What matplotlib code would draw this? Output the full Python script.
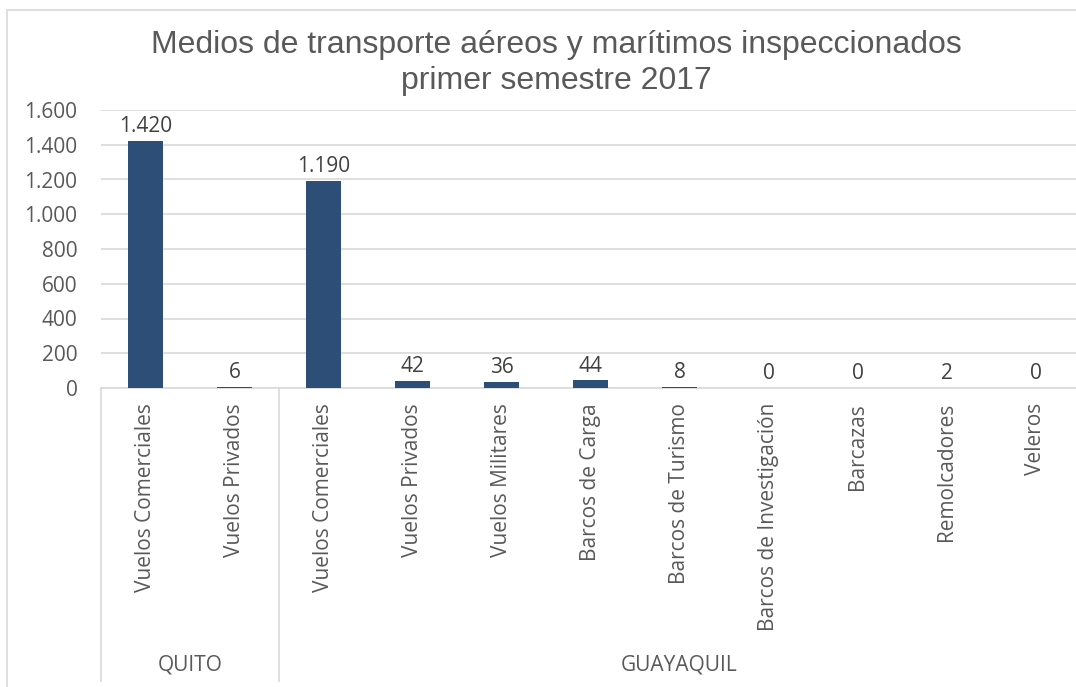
import matplotlib.pyplot as plt
import matplotlib.transforms as mtransforms
from matplotlib.patches import Rectangle
from matplotlib.ticker import FuncFormatter

# datos
categorias = ["Vuelos Comerciales", "Vuelos Privados", "Vuelos Comerciales", "Vuelos Privados",
              "Vuelos Militares", "Barcos de Carga", "Barcos de Turismo", "Barcos de Investigación",
              "Barcazas", "Remolcadores", "Veleros"]
valores = [1420, 6, 1190, 42, 36, 44, 8, 0, 0, 2, 0]
grupos = ["QUITO", "GUAYAQUIL"]
grupo_n = [2, 9]
titulo = "Medios de transporte aéreos y marítimos inspeccionados\nprimer semestre 2017"

W, H = 1076, 687
fig = plt.figure(figsize=(W/100, H/100), dpi=100)
ax = fig.add_axes([101/W, 1-388/H, (1080-101)/W, (388-110)/H])

font = ["Open Sans", "DejaVu Sans"]
gris = "#595959"
color_barra = "#2d4e76"
fs = 15

x = list(range(len(valores)))
ax.bar(x, valores, width=0.4, color=color_barra, zorder=3)
for i, v in enumerate(valores):
    ax.text(i, v + 22, "{:,}".format(v).replace(",", "."), ha="center", va="bottom",
            fontsize=fs, color="#404040", family=font)

ax.set_xlim(-0.5, len(valores)-0.5)
ax.set_ylim(0, 1600)
ax.set_yticks(range(0, 1601, 200))
ax.yaxis.set_major_formatter(FuncFormatter(lambda v, p: "{:,}".format(int(v)).replace(",", ".")))
ax.grid(axis="y", color="#d9d9d9", lw=1.2, zorder=0)
for s in ["top", "right", "left"]:
    ax.spines[s].set_visible(False)
ax.spines["bottom"].set_color("#d9d9d9")
ax.spines["bottom"].set_linewidth(1.2)
ax.tick_params(axis="y", length=0, pad=17, labelsize=fs, labelcolor=gris)
for t in ax.get_yticklabels():
    t.set_family(font)
ax.set_xticks([])

# etiquetas de categoria y grupos
tr = mtransforms.blended_transform_factory(ax.transData, fig.transFigure)
for i, c in enumerate(categorias):
    ax.text(i, 1-403/H, c, rotation=90, ha="center", va="top", transform=tr,
            fontsize=fs, color=gris, family=font)
inicio = -0.5
for g, n in zip(grupos, grupo_n):
    fin = inicio + n
    ax.text((inicio+fin)/2, 1-665/H, g, ha="center", va="center", transform=tr,
            fontsize=fs, color=gris, family=font)
    inicio = fin
bordes = [-0.5]
for n in grupo_n:
    bordes.append(bordes[-1] + n)
for b in bordes:
    ax.plot([b, b], [1-388/H, 1-681/H], color="#d9d9d9", lw=1.2, transform=tr, clip_on=False)

fig.text(556/W, 1-63/H, titulo, ha="center", va="center", fontsize=23, color=gris,
         family=["Liberation Sans", "DejaVu Sans"], linespacing=1.25)

# marco del grafico
fig.patches.append(Rectangle((7/W, -0.1), 1.2, 1-10/H+0.1, transform=fig.transFigure,
                             fill=False, ec="#d9d9d9", lw=1.2))

fig.savefig("out.png", dpi=100)
